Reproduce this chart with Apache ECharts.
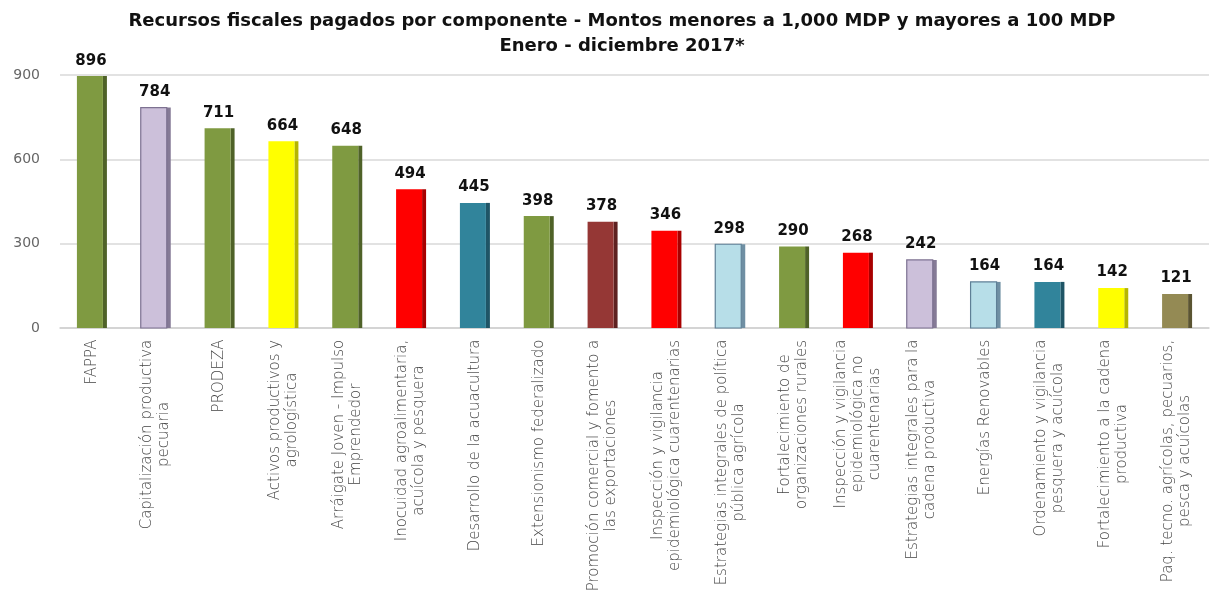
<!DOCTYPE html>
<html>
<head>
<meta charset="utf-8">
<script src="https://cdn.jsdelivr.net/npm/echarts@6/dist/echarts.min.js"></script>
<style>
  html, body { margin: 0; padding: 0; background: #fff; }
  #main { width: 1214px; height: 602px; }
</style>
</head>
<body>
<div id="main"></div>
<script>
var categories = [
    'FAPPA',
    'Capitalización productiva\npecuaria',
    'PRODEZA',
    'Activos productivos y\nagrologística',
    'Arráigate Joven - Impulso\nEmprendedor',
    'Inocuidad agroalimentaria,\nacuícola y pesquera',
    'Desarrollo de la acuacultura',
    'Extensionismo federalizado',
    'Promoción comercial y fomento a\nlas exportaciones',
    'Inspección y vigilancia\nepidemiológica cuarentenarias',
    'Estrategias integrales de política\npública agrícola',
    'Fortalecimiento de\norganizaciones rurales',
    'Inspección y vigilancia\nepidemiológica no\ncuarentenarias',
    'Estrategias integrales para la\ncadena productiva',
    'Energías Renovables',
    'Ordenamiento y vigilancia\npesquera y acuícola',
    'Fortalecimiento a la cadena\nproductiva',
    'Paq. tecno. agrícolas, pecuarios,\npesca y acuícolas'
];
var values = [896, 784, 711, 664, 648, 494, 445, 398, 378, 346, 298, 290, 268, 242, 164, 164, 142, 121];
var yTicks = [0, 300, 600, 900];

// color of each bar: [face, side, outline]
var palette = {
    olive: ['#7F9A41', '#4F6228', null],
    lila: ['#CCC0DA', '#857A96', '#7D7191'],
    yellow: ['#FFFF00', '#B5B500', null],
    red: ['#FF0000', '#A80000', null],
    teal: ['#31849B', '#1F5566', null],
    brown: ['#953735', '#5E2120', null],
    sky: ['#B7DEE8', '#6F8FA3', '#5E7F96'],
    khaki: ['#948A54', '#5A5432', null]
};
var barColors = ['olive', 'lila', 'olive', 'yellow', 'olive', 'red', 'teal', 'olive', 'brown',
    'red', 'sky', 'olive', 'red', 'lila', 'sky', 'teal', 'yellow', 'khaki'];

// axis labels: every line of a label is centered on its longest line
var labelSize = 15;
var ctx = document.createElement('canvas').getContext('2d');
ctx.font = '300 ' + labelSize + 'px "DejaVu Sans"';
var rich = {};
categories.forEach(function (c, i) {
    var w = 0;
    c.split('\n').forEach(function (line) {
        w = Math.max(w, ctx.measureText(line).width);
    });
    rich['l' + i] = {
        width: Math.ceil(w) + 1,
        align: 'center',
        fontFamily: 'DejaVu Sans',
        fontWeight: 300,
        fontSize: labelSize,
        lineHeight: 17,
        color: '#444'
    };
});

var chart = echarts.init(document.getElementById('main'));

function renderBar(params, api) {
    var top = api.coord([api.value(0), api.value(1)]);
    var base = api.coord([api.value(0), 0]);
    var pal = palette[barColors[params.dataIndex]];
    var face = 26, side = 4;
    var left = top[0] - (face + side) / 2;
    var h = base[1] - top[1];
    return {
        type: 'group',
        children: [
            {
                type: 'rect',
                shape: { x: left + face, y: top[1], width: side, height: h },
                style: { fill: pal[1] }
            },
            {
                type: 'rect',
                shape: { x: left, y: top[1], width: face, height: h },
                style: pal[2] ? { fill: pal[0], stroke: pal[2], lineWidth: 1.2 } : { fill: pal[0] }
            },
            {
                type: 'text',
                style: {
                    text: String(api.value(1)),
                    x: left + face / 2 + 1,
                    y: top[1] - 8,
                    align: 'center',
                    verticalAlign: 'bottom',
                    font: 'bold 15px "DejaVu Sans"',
                    fill: '#111'
                }
            }
        ]
    };
}

var option = {
    animation: false,
    title: {
        text: 'Recursos fiscales pagados por componente - Montos menores a 1,000 MDP y mayores a 100 MDP\nEnero - diciembre 2017*',
        left: 617,
        top: 4,
        textAlign: 'center',
        textStyle: {
            fontFamily: 'DejaVu Sans',
            fontWeight: 'bold',
            fontSize: 18,
            lineHeight: 25,
            color: '#111'
        }
    },
    grid: { left: 60, right: 5, top: 75, bottom: 274 },
    xAxis: {
        type: 'category',
        data: categories,
        axisLine: { show: true, lineStyle: { color: '#D0D0D0', width: 1.5 } },
        axisTick: { show: false },
        axisLabel: {
            rotate: 90,
            interval: 0,
            margin: 11,
            formatter: function (value, idx) {
                return value.split('\n').map(function (line) {
                    return '{l' + idx + '|' + line + '}';
                }).join('\n');
            },
            rich: rich
        }
    },
    yAxis: {
        type: 'value',
        min: yTicks[0],
        max: yTicks[yTicks.length - 1],
        interval: 300,
        axisLine: { show: false },
        axisTick: { show: false },
        axisLabel: {
            margin: 20,
            fontFamily: 'DejaVu Sans',
            fontSize: 14,
            color: '#666'
        },
        splitLine: { lineStyle: { color: '#D9D9D9', width: 1.5 } }
    },
    series: [
        {
            type: 'custom',
            renderItem: renderBar,
            encode: { x: 0, y: 1 },
            data: values.map(function (v, i) { return [i, v]; })
        }
    ]
};

chart.setOption(option);
</script>
</body>
</html>
